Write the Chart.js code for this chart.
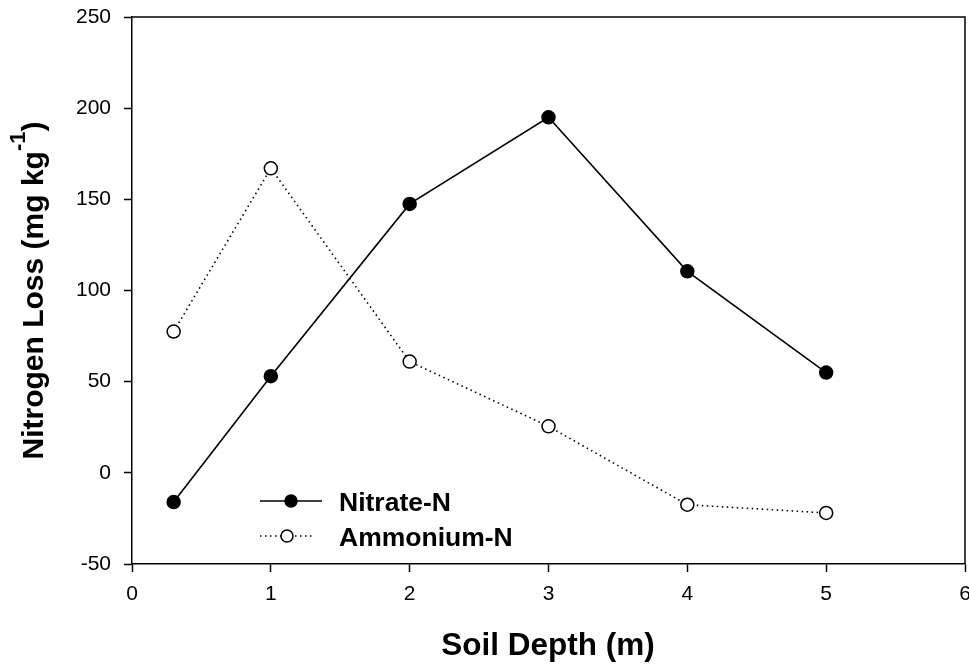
<!DOCTYPE html>
<html>
<head>
<meta charset="utf-8">
<script src="https://cdn.jsdelivr.net/npm/chart.js@4/dist/chart.umd.min.js"></script>
<style>
  html, body { margin: 0; padding: 0; background: #fff; }
  #wrap { width: 969px; height: 664px; }
</style>
</head>
<body>
<div id="wrap"><canvas id="c"></canvas></div>
<script>
// data
const depths = [0.3, 1, 2, 3, 4, 5];
const nitrate = [-16, 53, 147.5, 195, 110.5, 55];
const ammonium = [77.5, 167, 61, 25.5, -17.5, -22];
const seriesNames = ['Nitrate-N', 'Ammonium-N'];
const xTitle = 'Soil Depth (m)';

const FONT = 'Liberation Sans, Arial, Helvetica, sans-serif';

const toPts = (ys) => depths.map((x, i) => ({ x: x, y: ys[i] }));

// no extra room for overhanging tick labels
const noPad = () => ({ left: 0, right: 0, top: 0, bottom: 0 });

// top/right frame lines
const framePlugin = {
  id: 'frame',
  afterDraw(chart) {
    const { ctx, chartArea: a } = chart;
    ctx.save();
    ctx.strokeStyle = '#000';
    ctx.lineWidth = 1.5;
    ctx.beginPath();
    ctx.moveTo(a.left, a.top);
    ctx.lineTo(a.right, a.top);
    ctx.lineTo(a.right, a.bottom);
    ctx.stroke();
    ctx.restore();
  }
};

// axis titles (y one has a superscript)
const titlesPlugin = {
  id: 'titles',
  afterDraw(chart) {
    const { ctx, chartArea: a } = chart;
    const big = 'bold 30px ' + FONT, small = 'bold 22px ' + FONT;
    ctx.save();
    ctx.fillStyle = '#000';
    ctx.textBaseline = 'alphabetic';
    ctx.font = 'bold 31.5px ' + FONT;
    ctx.textAlign = 'center';
    ctx.fillText(xTitle, 548, 655);
    ctx.textAlign = 'left';
    ctx.translate(43, (a.top + a.bottom) / 2);
    ctx.rotate(-Math.PI / 2);
    const p1 = 'Nitrogen Loss (mg kg', p2 = '-1', p3 = ')';
    ctx.font = big; const w1 = ctx.measureText(p1).width, w3 = ctx.measureText(p3).width;
    ctx.font = small; const w2 = ctx.measureText(p2).width;
    let x = -(w1 + w2 + w3) / 2;
    ctx.font = big; ctx.fillText(p1, x, 0); x += w1;
    ctx.font = small; ctx.fillText(p2, x, -18); x += w2;
    ctx.font = big; ctx.fillText(p3, x, 0);
    ctx.restore();
  }
};

// legend: line + marker + label
const legendPlugin = {
  id: 'plotLegend',
  afterDraw(chart) {
    const { ctx } = chart;
    const rows = [501, 536];
    const lineEnd = [322, 312];
    const markX = [291, 287];
    chart.data.datasets.forEach((ds, i) => {
      const y = rows[i];
      ctx.save();
      ctx.strokeStyle = '#000';
      ctx.lineWidth = ds.borderWidth;
      ctx.setLineDash(ds.borderDash || []);
      ctx.beginPath();
      ctx.moveTo(260, y);
      ctx.lineTo(lineEnd[i], y);
      ctx.stroke();
      ctx.setLineDash([]);
      ctx.beginPath();
      ctx.arc(markX[i], y, 6, 0, Math.PI * 2);
      ctx.fillStyle = ds.pointBackgroundColor;
      ctx.fill();
      ctx.lineWidth = ds.pointBorderWidth;
      ctx.stroke();
      ctx.fillStyle = '#000';
      ctx.font = 'bold 26.5px ' + FONT;
      ctx.textBaseline = 'alphabetic';
      ctx.fillText(ds.label, 339, y + 10);
      ctx.restore();
    });
  }
};

new Chart(document.getElementById('c'), {
  type: 'scatter',
  data: {
    datasets: [
      {
        label: seriesNames[0],
        data: toPts(nitrate),
        showLine: true,
        borderColor: '#000',
        borderWidth: 1.6,
        pointRadius: 6.5,
        pointBackgroundColor: '#000',
        pointBorderColor: '#000',
        pointBorderWidth: 1.5
      },
      {
        label: seriesNames[1],
        data: toPts(ammonium),
        showLine: true,
        borderColor: '#000',
        borderWidth: 1.6,
        borderDash: [1.5, 3.5],
        pointRadius: 6.5,
        pointBackgroundColor: '#fff',
        pointBorderColor: '#000',
        pointBorderWidth: 1.5
      }
    ]
  },
  options: {
    responsive: true,
    maintainAspectRatio: false,
    animation: false,
    devicePixelRatio: 1,
    layout: { autoPadding: false, padding: { top: 17, right: 4, left: 0, bottom: 0 } },
    plugins: {
      legend: { display: false },
      tooltip: { enabled: false }
    },
    scales: {
      x: {
        type: 'linear',
        min: 0, max: 6,
        ticks: { stepSize: 1, color: '#000', font: { family: FONT, size: 21 }, padding: 10 },
        grid: { drawOnChartArea: false, tickLength: 8, tickColor: '#000', tickWidth: 1.5 },
        border: { color: '#000', width: 1.5 },
        afterFit(s) { s.height = 100; s.paddingLeft = 0; s.paddingRight = 0; s.getPadding = noPad; }
      },
      y: {
        min: -50, max: 250,
        ticks: { stepSize: 50, color: '#000', font: { family: FONT, size: 21 }, padding: 13 },
        grid: { drawOnChartArea: false, tickLength: 8, tickColor: '#000', tickWidth: 1.5 },
        border: { color: '#000', width: 1.5 },
        afterFit(s) { s.width = 132; s.paddingTop = 0; s.paddingBottom = 0; s.getPadding = noPad; }
      }
    }
  },
  plugins: [framePlugin, titlesPlugin, legendPlugin]
});
</script>
</body>
</html>
